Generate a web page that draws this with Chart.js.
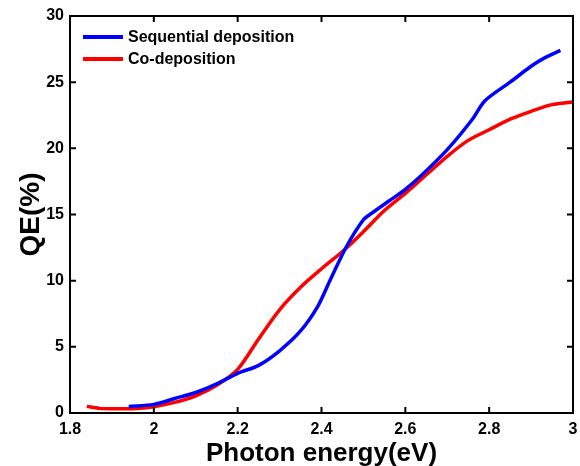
<!DOCTYPE html>
<html>
<head>
<meta charset="utf-8">
<script src="https://cdn.jsdelivr.net/npm/chart.js@4"></script>
<style>
  html, body { margin: 0; padding: 0; background: #fff; }
  #wrap { width: 580px; height: 466px; }
</style>
</head>
<body>
<div id="wrap"><canvas id="qeChart" width="580" height="466"></canvas></div>
<script>
// Sequential deposition curve (photon energy in eV, QE in %)
const seqEnergy = [1.94, 2.0, 2.05, 2.1, 2.15, 2.2, 2.25, 2.3, 2.35, 2.39, 2.42, 2.46, 2.5, 2.52, 2.56, 2.6, 2.64, 2.7, 2.76, 2.79, 2.85, 2.9, 2.93, 2.97];
const seqQE = [0.5, 0.65, 1.1, 1.55, 2.2, 3.0, 3.6, 4.7, 6.2, 8.0, 10.0, 12.6, 14.6, 15.1, 16.0, 16.9, 18.0, 19.9, 22.2, 23.6, 25.0, 26.2, 26.8, 27.4];

// Co-deposition curve
const coEnergy = [1.84, 1.87, 1.9, 1.95, 2.0, 2.05, 2.1, 2.15, 2.2, 2.25, 2.3, 2.35, 2.4, 2.45, 2.5, 2.55, 2.6, 2.65, 2.7, 2.75, 2.8, 2.85, 2.9, 2.95, 3.0];
const coQE = [0.5, 0.35, 0.32, 0.33, 0.48, 0.8, 1.3, 2.1, 3.3, 5.6, 7.8, 9.5, 10.9, 12.2, 13.7, 15.3, 16.6, 18.0, 19.4, 20.6, 21.4, 22.2, 22.8, 23.3, 23.5];

const seriesNames = ['Sequential deposition', 'Co-deposition'];
const seriesColors = ['#0000ff', '#ff0000'];

const FONT = 'Liberation Sans, Arial, sans-serif';

function toPoints(xs, ys) {
  return xs.map((x, i) => ({ x: x, y: ys[i] }));
}

// Frame around the plot with inward ticks on all four sides
const framePlugin = {
  id: 'frame',
  afterDatasetsDraw(chart) {
    const { ctx, chartArea: a, scales } = chart;
    ctx.save();
    ctx.strokeStyle = '#000';
    ctx.lineWidth = 2;
    ctx.strokeRect(a.left, a.top, a.right - a.left, a.bottom - a.top);
    const tl = 6;
    scales.x.ticks.forEach(t => {
      const px = scales.x.getPixelForValue(t.value);
      ctx.beginPath();
      ctx.moveTo(px, a.bottom); ctx.lineTo(px, a.bottom - tl);
      ctx.moveTo(px, a.top); ctx.lineTo(px, a.top + tl);
      ctx.stroke();
    });
    scales.y.ticks.forEach(t => {
      const py = scales.y.getPixelForValue(t.value);
      ctx.beginPath();
      ctx.moveTo(a.left, py); ctx.lineTo(a.left + tl, py);
      ctx.moveTo(a.right, py); ctx.lineTo(a.right - tl, py);
      ctx.stroke();
    });
    ctx.restore();
  }
};

// Legend drawn inside the upper-left corner of the plot
const insideLegend = {
  id: 'insideLegend',
  afterDraw(chart) {
    const { ctx, chartArea: a } = chart;
    ctx.save();
    ctx.font = 'bold 16px ' + FONT;
    ctx.textBaseline = 'middle';
    chart.data.datasets.forEach((ds, i) => {
      const y = a.top + 21 + i * 22;
      ctx.strokeStyle = ds.borderColor;
      ctx.lineWidth = 4;
      ctx.beginPath();
      ctx.moveTo(a.left + 13, y);
      ctx.lineTo(a.left + 53, y);
      ctx.stroke();
      ctx.fillStyle = '#000';
      ctx.fillText(ds.label, a.left + 58, y + 1);
    });
    ctx.restore();
  }
};

new Chart(document.getElementById('qeChart').getContext('2d'), {
  type: 'line',
  data: {
    datasets: [
      {
        label: seriesNames[0],
        data: toPoints(seqEnergy, seqQE),
        borderColor: seriesColors[0],
        borderWidth: 3.5,
        pointRadius: 0,
        tension: 0.3,
        fill: false
      },
      {
        label: seriesNames[1],
        data: toPoints(coEnergy, coQE),
        borderColor: seriesColors[1],
        borderWidth: 3.5,
        pointRadius: 0,
        tension: 0.3,
        fill: false
      }
    ]
  },
  options: {
    responsive: false,
    animation: false,
    layout: { padding: { top: 16, right: 7, left: 0, bottom: 0 } },
    plugins: {
      legend: { display: false },
      tooltip: { enabled: false }
    },
    scales: {
      x: {
        type: 'linear',
        min: 1.8,
        max: 3.0,
        border: { display: false },
        grid: { display: false, drawTicks: false },
        ticks: {
          stepSize: 0.2,
          color: '#000',
          font: { family: FONT, size: 16, weight: 'bold' },
          padding: 7,
          maxRotation: 0,
          callback: v => Number(v.toFixed(1)).toString()
        },
        title: {
          display: true,
          text: 'Photon energy(eV)',
          color: '#000',
          font: { family: FONT, size: 26, weight: 'bold' },
          padding: { top: 0, bottom: -3 }
        },
        afterFit(scale) {
          scale.height = 53;
          scale.paddingLeft = 0;
          scale.paddingRight = 0;
        }
      },
      y: {
        min: 0,
        max: 30,
        border: { display: false },
        grid: { display: false, drawTicks: false },
        ticks: {
          stepSize: 5,
          color: '#000',
          font: { family: FONT, size: 16, weight: 'bold' },
          padding: 6
        },
        title: {
          display: true,
          text: 'QE(%)',
          color: '#000',
          font: { family: FONT, size: 28, weight: 'bold' },
          padding: { top: 14, bottom: 0 }
        },
        afterFit(scale) { scale.width = 70; }
      }
    }
  },
  plugins: [framePlugin, insideLegend]
});
</script>
</body>
</html>
